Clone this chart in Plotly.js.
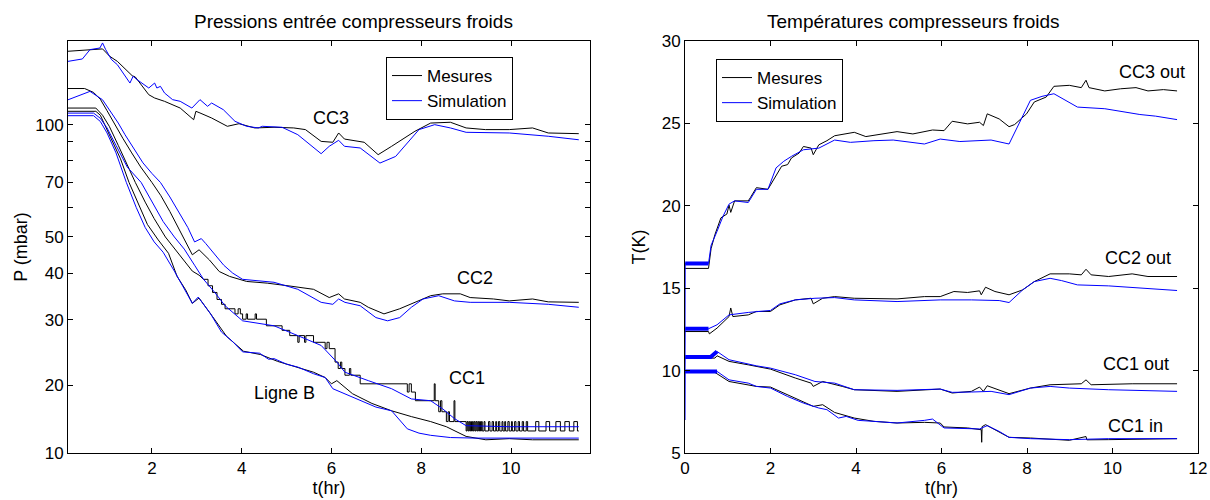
<!DOCTYPE html>
<html><head><meta charset="utf-8">
<script src="https://cdn.plot.ly/plotly-3.0.1.min.js"></script>
<style>html,body{margin:0;padding:0;background:#fff}#chart{width:1210px;height:500px}</style>
</head><body><div id="chart"></div>
<script>
// ---------- LEFT: Pressions entrée compresseurs froids (mbar, log axis) ----------
const tCC3mes = [0.13,0.80,0.90,1.06,1.23,1.56,1.63,1.93,2.06,2.28,2.63,2.93,2.98,3.07,3.33,3.68,3.94,4.29,4.72,5.16,5.42,5.77,6.03,6.16,6.29,6.73,7.04,7.34,7.86,8.21,8.65,9.0,9.43,9.96,10.48,10.83,11.51];
const pCC3mes = [157.3,159.6,159.6,152.5,147.8,135.3,134.2,120.3,117.9,115.5,110.8,103.1,108.6,107.5,104.2,99.0,100.6,98.0,98.4,98.0,97.0,90.2,89.7,95.0,91.5,89.7,83.1,87.5,96.0,101.0,101.5,98.0,97.0,97.0,98.0,95.0,94.6];
const tCC3sim = [0.13,0.45,0.62,0.84,0.90,0.97,1.10,1.23,1.51,1.58,1.67,1.93,2.06,2.11,2.19,2.28,2.46,2.63,2.89,3.07,3.24,3.33,3.59,3.85,4.11,4.37,4.46,4.90,5.25,5.77,5.95,6.16,6.29,6.64,7.08,7.43,7.69,7.95,8.30,8.65,9.00,9.96,10.83,11.51];
const pCC3sim = [147.8,150.0,158.9,160.5,165.6,158.9,149.4,144.8,129.3,134.8,132.0,125.4,129.3,125.4,126.7,121.6,116.7,115.5,110.8,116.7,112.0,114.3,109.7,102.1,99.0,98.0,99.0,98.4,94.0,83.6,87.5,90.8,87.5,86.6,78.9,82.2,89.3,97.0,100.0,98.0,95.4,95.0,93.1,91.1];

const tCC2mes = [0.13,0.5,0.7,0.85,1.0,1.15,1.35,1.55,1.75,2.0,2.2,2.4,2.6,2.75,2.9,3.05,3.28,3.5,3.73,4.11,4.57,5.1,5.6,5.95,6.16,6.29,6.64,6.82,7.17,7.52,7.86,8.21,8.48,8.87,9.09,9.61,9.96,10.48,10.83,11.51];
const pCC2mes = [125,125,122,117,109,101,92,84,77,70,64.5,58.5,52.5,48.5,44.8,46.2,43.4,40.4,39.2,38.0,37.6,36.9,36.2,34.4,35.2,34.1,33.4,32.4,31.1,32.1,33.4,34.8,35.2,35.2,34.4,34.1,33.7,34.1,33.5,33.4];
const tCC2sim = [0.13,0.4,0.62,0.9,1.15,1.25,1.4,1.6,1.8,2.0,2.19,2.4,2.6,2.8,2.95,3.1,3.2,3.4,3.6,3.8,4.02,4.72,5.25,5.77,6.03,6.16,6.3,6.64,6.99,7.25,7.52,7.78,8.04,8.39,8.74,9.09,9.96,10.83,11.51];
const pCC2sim = [116.6,120,122.8,116.6,105.3,101,94,86,79,74,70,64,58,53,48.5,49.5,48,45,42,40,38.5,37.8,36.2,33.4,33.0,34.1,33.4,32.7,30.4,29.8,30.4,32.4,34.1,34.8,33.7,33.4,33.4,33.0,32.4];

const tCC1mes = [0.13,0.75,0.9,1.05,1.25,1.45,1.63,1.85,2.05,2.3,2.5,2.72,2.9,3.05,3.15];
const pCC1mes = [110.8,110.8,106,99,88,78,70,62,56,50,46.5,43,40.5,39.5,38.5];
const tCC1mesStep = [3.15,3.25,3.35,3.45,3.55,3.63,3.85,3.92,3.97,4.02,4.10,4.13,4.30,4.33,4.55,4.90,5.07,5.25,5.28,5.40,5.43,5.60,5.86,5.90,5.95,6.08,6.15,6.20,6.23,6.30,6.40,6.43,6.64,7.69,7.73,7.78,7.87,8.29,8.31,8.39,8.43,8.46,8.56,8.60,8.63,8.73,8.75,
  9.00,9.02,9.04,9.06,9.08,9.10,9.12,9.14,9.16,9.18,9.20,9.22,9.24,9.26,9.28,9.30,9.32,9.34,9.36,9.40,9.42,9.50,9.53,9.58,9.61,9.66,9.68,9.72,9.75,9.80,9.82,9.86,9.88,9.93,9.96,10.01,10.03,10.08,10.11,10.16,10.19,10.25,10.28,10.34,10.37,10.55,10.62,10.78,10.86,11.0,11.1,11.2,11.3,11.4,11.48,11.51];
const pCC1mesStep = [38.5,37.0,35.5,34.0,33.0,32.1,31.1,32.1,31.1,30.1,31.1,30.1,31.1,30.1,28.9,28.1,27.2,26.1,27.2,26.1,27.2,26.1,25.1,26.1,25.1,23.1,22.2,23.1,22.2,21.3,22.2,21.3,20.2,19.2,20.2,19.2,18.2,20.2,18.2,17.0,18.2,17.0,16.0,17.0,16.0,18.2,16.0,
  15.1,16.0,15.1,16.0,15.1,16.0,15.1,16.0,15.1,16.0,15.1,16.0,15.1,16.0,15.1,16.0,15.1,16.0,15.1,16.0,15.1,16.0,15.1,16.0,15.1,16.0,15.1,16.0,15.1,16.0,15.1,16.0,15.1,16.0,15.1,16.0,15.1,16.0,15.1,16.0,15.1,16.0,15.1,16.0,15.1,16.0,15.1,16.0,15.1,16.0,15.1,16.0,15.1,16.0,15.1,15.1];
const tCC1sim = [0.13,0.7,0.85,1.0,1.2,1.45,1.76,2.0,2.25,2.5,2.72,2.95,3.15,3.4,3.63,4.02,4.4,4.72,5.25,5.77,6.12,6.3,6.82,7.34,7.78,8.21,8.48,8.74,9.0,9.96,11.51];
const pCC1sim = [107.4,107.4,104,98,88,77,70,62,55,50,46.4,42,38.5,35.5,32.7,29.8,29.3,28.9,27.2,25.6,23.1,21.7,20.6,19.6,18.4,18.2,17.3,16.3,15.6,15.5,15.5];

const tLBmes = [0.13,0.75,0.85,0.95,1.1,1.3,1.49,1.7,1.9,2.14,2.37,2.56,2.75,2.9,3.05,3.35,3.66,4.04,4.42,4.8,5.1,5.6,5.86,6.0,6.12,6.47,6.9,7.34,7.78,8.21,8.56,9.0,9.44,9.96,10.48,11.51];
const pLBmes = [108.6,108.6,106,100,92,81,70,61,54,49.1,45.2,39.2,36.1,33.2,34.3,30.6,27.1,24.7,24.2,23.2,22.6,21.7,21.0,20.2,20.6,19.0,17.9,17.1,16.5,16.0,15.5,14.6,14.3,14.4,14.3,14.3];
const tLBsim = [0.13,0.7,0.85,1.0,1.2,1.43,1.65,1.85,2.05,2.25,2.5,2.75,2.9,3.03,3.3,3.55,3.8,4.02,4.4,4.6,4.72,5.0,5.25,5.6,5.86,6.03,6.47,6.99,7.34,7.69,7.95,8.21,8.65,9.2,10.0,11.51];
const pLBsim = [105.7,105.7,102,95,84,70,60,53,48.5,45.5,40.5,35.8,33.2,34.5,31.2,27.8,26.2,24.6,24.4,23.5,23.6,22.8,22.4,21.5,21.0,19.6,18.6,17.5,17.1,15.3,14.9,14.7,14.5,14.45,14.45,14.45];

const pTickVals  = [13.2,20,30,40,50,60,70,80,90,100];
const pTickText  = ['10','20','30','40','50','','70','','','100'];
const tTicksLeft = [2,4,6,8,10];

// ---------- RIGHT: Températures compresseurs froids (K) ----------
const tCC3outMes = [0,0.55,0.61,0.70,0.84,0.98,1.03,1.07,1.16,1.48,1.53,1.67,1.94,2.03,2.13,2.26,2.40,2.49,2.67,2.77,2.95,3.00,3.13,3.32,3.50,3.96,4.23,4.60,4.96,5.33,5.79,6.06,6.25,6.61,6.89,6.98,7.07,7.35,7.58,7.71,7.99,8.17,8.45,8.63,8.99,9.27,9.38,9.45,9.82,10.19,10.55,10.83,11.19,11.51];
const TCC3outMes = [16.2,16.2,17.4,18.25,19.27,19.5,20.04,19.6,20.3,20.3,20.5,21.1,21.0,21.4,21.9,22.4,22.5,22.9,23.2,23.6,23.5,23.1,23.7,23.95,24.25,24.46,24.2,24.36,24.5,24.36,24.6,24.56,25.13,24.97,25.07,24.87,25.58,25.27,24.8,24.93,25.58,26.3,26.6,27.25,27.31,27.17,27.62,27.17,26.97,27.1,27.17,26.97,27.05,26.97];
const tCC3outSim = [0,0.005,0.55,0.61,0.75,0.89,1.03,1.16,1.48,1.67,1.94,2.13,2.31,2.49,2.77,3.13,3.50,3.87,4.42,4.87,5.60,5.97,6.43,7.16,7.58,8.08,8.35,8.63,9.18,9.82,10.64,11.01,11.51];
const TCC3outSim = [12.5,16.5,16.5,17.6,18.45,19.37,20.1,20.3,20.2,21.0,21.0,22.3,22.7,23.0,23.4,23.5,23.99,23.85,23.95,23.99,23.75,24.05,23.9,23.99,23.75,26.4,26.64,26.8,25.99,25.89,25.54,25.44,25.23];

const tCC2outMes = [0,0.55,0.57,0.75,1.03,1.07,1.12,1.48,1.67,2.0,2.22,2.58,2.95,3.0,3.22,3.5,3.96,4.42,4.96,5.6,5.97,6.29,6.61,6.89,6.93,7.03,7.25,7.58,7.9,8.17,8.54,8.99,9.27,9.38,9.5,9.91,10.46,10.83,11.51];
const TCC2outMes = [12.37,12.37,12.23,12.58,13.28,13.8,13.28,13.38,13.59,13.59,13.99,14.29,14.39,14.05,14.39,14.49,14.39,14.39,14.35,14.49,14.49,14.8,14.74,14.84,14.6,15.06,14.8,14.6,14.9,15.4,15.87,15.87,15.81,16.15,15.81,15.71,15.87,15.71,15.71];
const tCC2outSim = [0,0.005,0.55,0.75,1.03,1.48,2.0,2.22,2.58,3.04,3.5,3.96,4.96,5.97,6.7,7.35,7.58,7.9,8.17,8.54,8.81,9.18,9.91,10.83,11.51];
const TCC2outSim = [10.8,12.54,12.54,12.78,13.38,13.53,13.65,14.05,14.29,14.39,14.43,14.29,14.19,14.29,14.29,14.25,14.13,14.9,15.4,15.6,15.46,15.2,15.14,15.0,14.86];

const tCC1outMes = [0,0.7,0.75,1.03,1.48,2.0,2.58,2.95,3.0,3.22,3.68,3.96,4.96,5.97,6.25,6.7,6.89,6.98,7.07,7.58,8.08,8.54,9.27,9.38,9.5,10.46,11.51];
const TCC1outMes = [10.76,10.76,10.9,10.56,10.35,10.09,9.55,9.24,9.04,9.34,9.04,8.84,8.74,8.88,8.64,8.74,9.0,8.74,9.08,8.6,8.94,9.14,9.2,9.44,9.14,9.2,9.2];
const tCC1outSim = [0,0.005,0.6,0.75,1.03,1.67,2.0,2.58,3.04,3.5,3.96,4.96,5.97,6.25,6.7,7.16,7.58,8.08,8.54,8.99,9.91,11.51];
const TCC1outSim = [9.9,10.82,10.82,11.16,10.66,10.29,10.15,9.75,9.34,9.24,8.84,8.8,8.88,8.68,8.7,8.74,8.54,8.94,9.04,8.94,8.84,8.74];

const tCC1inMes = [0,0.7,1.03,1.67,2.0,2.4,2.77,3.0,3.22,3.5,3.96,4.42,4.96,5.6,5.97,6.06,6.61,6.93,6.94,6.95,7.03,7.58,8.08,8.99,9.38,9.4,9.91,11.51];
const TCC1inMes = [9.89,9.89,9.34,9.04,9.0,8.53,8.13,7.83,7.93,7.46,7.12,6.92,6.82,6.86,6.82,6.58,6.52,6.41,5.65,6.6,6.72,5.95,5.91,5.77,6.0,5.8,5.81,5.87];
const tCC1inSim = [0,0.005,0.75,1.03,1.48,1.67,2.0,2.4,2.77,3.13,3.32,3.5,3.59,3.77,4.05,4.42,4.96,5.6,5.79,6.06,6.61,6.89,7.07,7.35,7.58,8.08,8.99,9.91,11.51];
const TCC1inSim = [7.0,9.95,9.95,9.44,9.24,9.04,8.94,8.43,8.03,7.73,7.63,7.32,7.12,7.22,6.98,6.92,6.82,6.98,7.06,6.52,6.46,6.46,6.66,6.31,5.95,5.87,5.81,5.87,5.87];

const tTicksRight = [0,2,4,6,8,10,12];
const TTicks = [5,10,15,20,25,30];

// ---------- styling ----------
const BLACK = '#000000', BLUE = '#0000ff';
const FONT = 'Liberation Sans, Arial, Helvetica, sans-serif';
const traces = [];
function line(x, y, color, opts) {
  return Object.assign({x: x, y: y, type: 'scatter', mode: 'lines',
    line: {color: color, width: 1}, showlegend: false, hoverinfo: 'skip'}, opts || {});
}
// left
traces.push(line(tCC3mes, pCC3mes, BLACK, {name: 'Mesures', showlegend: true, legend: 'legend', legendrank: 1}));
traces.push(line(tCC3sim, pCC3sim, BLUE, {name: 'Simulation', showlegend: true, legend: 'legend', legendrank: 2}));
traces.push(line(tCC2mes, pCC2mes, BLACK));
traces.push(line(tCC1mes, pCC1mes, BLACK));
traces.push(line(tCC1mesStep, pCC1mesStep, BLACK, {line: {color: BLACK, width: 1, shape: 'hv'}}));
traces.push(line(tLBmes, pLBmes, BLACK));
traces.push(line(tCC2sim, pCC2sim, BLUE));
traces.push(line(tCC1sim, pCC1sim, BLUE));
traces.push(line(tLBsim, pLBsim, BLUE));
// right
const R = {xaxis: 'x2', yaxis: 'y2'};
traces.push(line(tCC3outMes, TCC3outMes, BLACK, Object.assign({name: 'Mesures', showlegend: true, legend: 'legend2', legendrank: 1}, R)));
traces.push(line(tCC2outMes, TCC2outMes, BLACK, R));
traces.push(line(tCC1outMes, TCC1outMes, BLACK, R));
traces.push(line(tCC1inMes, TCC1inMes, BLACK, R));
traces.push(line(tCC3outSim, TCC3outSim, BLUE, Object.assign({name: 'Simulation', showlegend: true, legend: 'legend2', legendrank: 2}, R)));
traces.push(line(tCC2outSim, TCC2outSim, BLUE, R));
traces.push(line(tCC1outSim, TCC1outSim, BLUE, R));
traces.push(line(tCC1inSim, TCC1inSim, BLUE, R));
// noisy start of the simulations (thick band), drawn from the same arrays
[[tCC3outSim, TCC3outSim, 0.55], [tCC2outSim, TCC2outSim, 0.55], [tCC1outSim, TCC1outSim, 0.75], [tCC1inSim, TCC1inSim, 0.75]].forEach(function (s) {
  const xs = [], ys = [];
  s[0].forEach(function (t, i) { if (t > 0 && t <= s[2]) { xs.push(t); ys.push(s[1][i]); } });
  traces.push(line(xs, ys, BLUE, Object.assign({line: {color: BLUE, width: 4}}, R)));
});

const axBase = {showline: true, linecolor: BLACK, linewidth: 1, mirror: 'ticks', ticks: 'inside',
  ticklen: 5, tickcolor: BLACK, showgrid: false, zeroline: false,
  tickfont: {family: FONT, size: 17, color: BLACK}};

const PL = 68, PR = 590, QL = 685, QR = 1198, W = 1210;
const layout = {
  width: 1210, height: 500,
  margin: {l: 0, r: 0, t: 41, b: 47},
  paper_bgcolor: '#ffffff', plot_bgcolor: '#ffffff',
  font: {family: FONT, size: 17, color: BLACK},
  xaxis: Object.assign({}, axBase, {domain: [PL / W, PR / W], range: [0.13, 11.76], tickvals: tTicksLeft,
    anchor: 'y', title: {text: 't(hr)', standoff: 0, font: {family: FONT, size: 18}}}),
  yaxis: Object.assign({}, axBase, {domain: [0, 1], type: 'log', range: [Math.log10(13.18), Math.log10(167.6)],
    tickvals: pTickVals, ticktext: pTickText, anchor: 'x',
    title: {text: 'P (mbar)', standoff: 2, font: {family: FONT, size: 18}}}),
  xaxis2: Object.assign({}, axBase, {domain: [QL / W, QR / W], range: [0, 12], tickvals: tTicksRight,
    anchor: 'y2', title: {text: 't(hr)', standoff: 0, font: {family: FONT, size: 18}}}),
  yaxis2: Object.assign({}, axBase, {domain: [0, 1], range: [5, 30], tickvals: TTicks, anchor: 'x2',
    title: {text: 'T(K)', standoff: 11, font: {family: FONT, size: 18}}}),
  legend: {x: 386 / W, y: (453 - 57) / 412, xanchor: 'left', yanchor: 'top', bgcolor: '#ffffff',
    bordercolor: BLACK, borderwidth: 1, font: {family: FONT, size: 17, color: BLACK}, tracegroupgap: 0},
  legend2: {x: 716 / W, y: (453 - 59) / 412, xanchor: 'left', yanchor: 'top', bgcolor: '#ffffff',
    bordercolor: BLACK, borderwidth: 1, font: {family: FONT, size: 17, color: BLACK}, tracegroupgap: 0},
  annotations: [
    {text: 'Pressions entrée compresseurs froids', xref: 'paper', yref: 'paper', x: 353 / W, y: (453 - 22) / 412,
      xanchor: 'center', yanchor: 'middle', showarrow: false, font: {family: FONT, size: 19}},
    {text: 'Températures compresseurs froids', xref: 'paper', yref: 'paper', x: 913 / W, y: (453 - 22) / 412,
      xanchor: 'center', yanchor: 'middle', showarrow: false, font: {family: FONT, size: 19}},
    {text: 'CC3', xref: 'x', yref: 'y', x: 6.0, y: Math.log10(104.2), showarrow: false, font: {family: FONT, size: 18}},
    {text: 'CC2', xref: 'x', yref: 'y', x: 9.2, y: Math.log10(38.9), showarrow: false, font: {family: FONT, size: 18}},
    {text: 'CC1', xref: 'x', yref: 'y', x: 9.02, y: Math.log10(21.0), showarrow: false, font: {family: FONT, size: 18}},
    {text: 'Ligne B', xref: 'x', yref: 'y', x: 4.95, y: Math.log10(19.1), showarrow: false, font: {family: FONT, size: 18}},
    {text: 'CC3 out', xref: 'x2', yref: 'y2', x: 11.74, y: 28.13, xanchor: 'right', showarrow: false, font: {family: FONT, size: 18}},
    {text: 'CC2 out', xref: 'x2', yref: 'y2', x: 11.42, y: 16.82, xanchor: 'right', showarrow: false, font: {family: FONT, size: 18}},
    {text: 'CC1 out', xref: 'x2', yref: 'y2', x: 11.37, y: 10.41, xanchor: 'right', showarrow: false, font: {family: FONT, size: 18}},
    {text: 'CC1 in', xref: 'x2', yref: 'y2', x: 11.22, y: 6.62, xanchor: 'right', showarrow: false, font: {family: FONT, size: 18}}
  ]
};
Plotly.newPlot('chart', traces, layout, {staticPlot: true, displayModeBar: false});
</script></body></html>
